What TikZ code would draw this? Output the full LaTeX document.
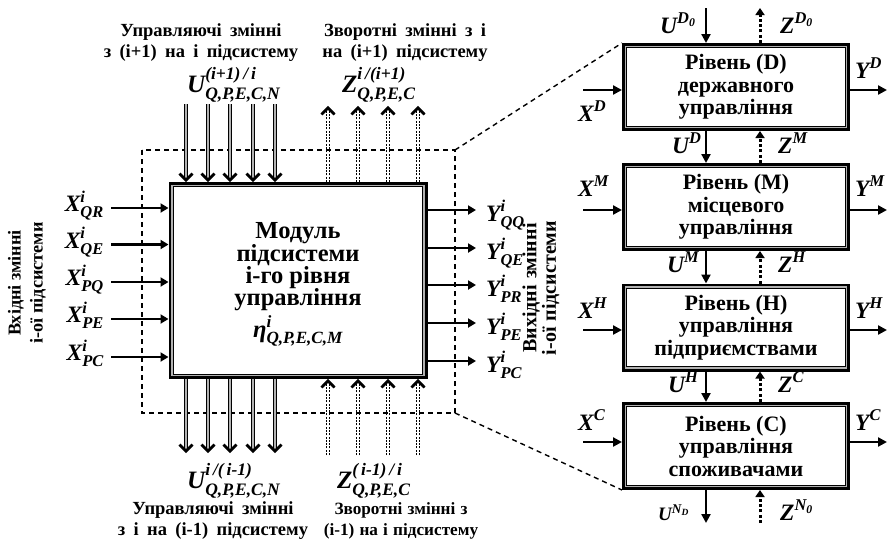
\documentclass[tikz,border=0pt]{standalone}
\usepackage{fontspec}
\setmainfont{Liberation Serif}
\usepackage{amsmath}
\usetikzlibrary{arrows.meta,calc}
\newcommand\bi[1]{\text{\bfseries\itshape #1}}
\newcommand\widesp{\spaceskip=0.45em plus 0.1em\relax}
\newcommand\midsp{\spaceskip=0.3em plus 0.1em\relax}
\begin{document}
\begin{tikzpicture}[x=1pt,y=-1pt,
  hdr/.style={font=\fontsize{18.5}{21}\selectfont\bfseries\widesp, align=center, inner sep=0},
  hdrb/.style={font=\fontsize{17.2}{21}\selectfont\bfseries\midsp, align=center, inner sep=0},
  rot/.style={font=\fontsize{18.2}{22}\selectfont\bfseries, align=center, rotate=90, inner sep=0},
  rotb/.style={font=\fontsize{20}{19.5}\selectfont\bfseries\midsp, align=center, rotate=90, inner sep=0},
  var/.style={font=\fontsize{23.5}{26}\selectfont, inner sep=0},
  bigvar/.style={font=\fontsize{25}{28}\selectfont, inner sep=0},
  smallvar/.style={font=\fontsize{19}{22}\selectfont, inner sep=0},
  tribox/.style={draw, line width=0.8pt, double=gray!60, double distance=1.6pt,
    preaction={draw=black, line width=7pt}, fill=white, outer sep=3.5pt,
    align=center, inner sep=0},
  thk/.style={line width=2.9pt, -{Triangle[length=8pt,width=9pt]}},
  rarr/.style={line width=2.6pt, -{Triangle[length=9pt,width=9pt]}},
  rdot/.style={line width=3pt, dash pattern=on 3pt off 2.3pt, -{Triangle[length=7pt,width=9pt]}},
  uline/.style={line width=0.9pt, double=gray!60, double distance=1.3pt},
  zdot/.style={line width=1pt, dash pattern=on 2pt off 1.3pt},
  chevline/.style={line width=2.8pt, line join=miter},
  dsh/.style={line width=1.4pt, dash pattern=on 5pt off 4pt}
]
\useasboundingbox (0,0) rectangle (889,539);

% dashed frame
\coordinate (dtl) at (142,150);
\coordinate (dbr) at (455,413);
\draw[dsh] (dtl) rectangle (dbr);

% main module
\node[tribox, minimum width=252pt, minimum height=190pt,
  font=\fontsize{24.5}{22.3}\selectfont\bfseries] (mod) at (298,280.5)
  {\rule{0pt}{24pt}Модуль\\підсистеми\\і-го рівня\\управління\\[4pt]$\bi{η}^{\bi{i}}_{\bi{Q,P,E,C,M}}$};

% level boxes
\node[tribox, minimum width=221pt, minimum height=81pt,
  font=\fontsize{22}{22.5}\selectfont\bfseries] (D) at (736,87) {Рівень (D)\\державного\\управління};
\node[tribox, minimum width=221pt, minimum height=81pt,
  font=\fontsize{22}{22.5}\selectfont\bfseries] (M) at (736,207) {Рівень (M)\\місцевого\\управління};
\node[tribox, minimum width=221pt, minimum height=81pt,
  font=\fontsize{22}{22.5}\selectfont\bfseries] (H) at (736,327.5) {Рівень (H)\\управління\\підприємствами};
\node[tribox, minimum width=221pt, minimum height=81pt,
  font=\fontsize{22}{22.5}\selectfont\bfseries] (C) at (736,446) {Рівень (C)\\управління\\споживачами};

\draw[dsh] (dbr |- dtl) -- (D.north west);
\draw[dsh] (dbr) -- (C.south west);

% headers
\node[hdr] (h1) at (201,42.4) {Управляючі змінні\\з (i+1) на і підсистему};
\node[hdr] (h2) at (405,42.4) {Зворотні змінні з і\\на (i+1) підсистему};
\node[hdr] (h3) at (213,521) {Управляючі змінні\\з і на (і-1) підсистему};
\node[hdrb] (h4) at (401,521) {Зворотні змінні з\\(і-1) на і підсистему};
\node[rot] (lin) at (27,283) {Вхідні змінні\\і-ої підсистеми};
\node[rotb] (lout) at (541,288) {Вихідні змінні\\і-ої підсистеми};

% variable labels of module
\node[bigvar, anchor=base west] (ltop) at (187,92) {$\bi{U}^{\bi{(i+1)\,/\,i}}_{\bi{Q,P,E,C,N}}$};
\node[bigvar, anchor=base west] (ztop) at (342,92) {$\bi{Z}^{\bi{i\,/(i+1)}}_{\bi{Q,P,E,C}}$};
\node[bigvar, anchor=base west] (lbot) at (187,488) {$\bi{U}^{\bi{i\,/(\,i{-}1)}}_{\bi{Q,P,E,C,N}}$};
\node[bigvar, anchor=base west] (zbot) at (337,488) {$\bi{Z}^{\bi{(\,i{-}1)\,/\,i}}_{\bi{Q,P,E,C}}$};

% U arrows (control), top and bottom
\foreach \x [count=\k] in {186,208,230,253,275} {
  \coordinate (ut\k) at (\x,104);
  \coordinate (utb\k) at (ut\k |- mod.north);
  \draw[uline] (ut\k) -- ([yshift=2pt]utb\k);
  \draw[chevline] ($(utb\k)+(-6.5,-8.5)$) -- ($(utb\k)+(0,-1.8)$) -- ($(utb\k)+(6.5,-8.5)$);
  \coordinate (ub\k) at (\x,453);
  \coordinate (ubb\k) at (ub\k |- mod.south);
  \draw[uline] (ubb\k) -- ([yshift=2pt]ub\k);
  \draw[chevline] ($(ub\k)+(-6.5,-8.5)$) -- ($(ub\k)+(0,-1.8)$) -- ($(ub\k)+(6.5,-8.5)$);
}
% Z arrows (feedback), top and bottom
\foreach \x [count=\k] in {328,358,388,418} {
  \coordinate (zt\k) at (\x,106);
  \coordinate (ztb\k) at (zt\k |- mod.north);
  \draw[zdot] ([xshift=-1.4pt]ztb\k) -- ([xshift=-1.4pt,yshift=-2pt]zt\k)
              ([xshift=1.4pt]ztb\k) -- ([xshift=1.4pt,yshift=-2pt]zt\k);
  \draw[chevline] ($(zt\k)+(-6.5,8.5)$) -- ($(zt\k)+(0,1.8)$) -- ($(zt\k)+(6.5,8.5)$);
  \coordinate (zb\k) at (\x,455);
  \coordinate (zbb\k) at (zb\k |- mod.south);
  \draw[zdot] ([xshift=-1.4pt]zb\k) -- ([xshift=-1.4pt,yshift=-2pt]zbb\k)
              ([xshift=1.4pt]zb\k) -- ([xshift=1.4pt,yshift=-2pt]zbb\k);
  \draw[chevline] ($(zbb\k)+(-6.5,8.5)$) -- ($(zbb\k)+(0,1.8)$) -- ($(zbb\k)+(6.5,8.5)$);
}

% X inputs
\foreach \y/\s [count=\k] in {208/QR,244.5/QE,282/PQ,319/PE,357/PC} {
  \coordinate (xs\k) at (111,\y);
  \draw[thk] (xs\k) -- (xs\k -| mod.west);
  \node[var, anchor=base east] at (104,\y+3.5) {$\bi{X}^{\bi{i}}_{\bi{\s}}$};
}
% Y outputs
\foreach \y/\s [count=\k] in {210/QQ,248/QE,285/PR,323/PE,361/PC} {
  \coordinate (ye\k) at (476,\y);
  \draw[thk] (ye\k -| mod.east) -- (ye\k);
  \node[var, anchor=base west] at (486,\y+11) {$\bi{Y}^{\bi{i}}_{\bi{\s}}$};
}

% right column connectors
\coordinate (ux) at (706,0);
\coordinate (zx) at (760,0);
\coordinate (uD0) at (706,8);
\coordinate (zD0) at (760,8);
\draw[rarr] (uD0) -- (uD0 |- D.north);
\draw[rdot] (zD0 |- D.north) -- (zD0);
\draw[rarr] (D.south -| ux) -- (M.north -| ux);
\draw[rdot] (M.north -| zx) -- (D.south -| zx);
\draw[rarr] (M.south -| ux) -- (H.north -| ux);
\draw[rdot] (H.north -| zx) -- (M.south -| zx);
\draw[rarr] (H.south -| ux) -- (C.north -| ux);
\draw[rdot] (C.north -| zx) -- (H.south -| zx);
\coordinate (uND) at (706,523);
\coordinate (zN0) at (760,523);
\draw[rarr] (uND |- C.south) -- (uND);
\draw[rdot] (zN0) -- (zN0 |- C.south);

\foreach \n/\y in {D/90,M/210,H/330,C/442} {
  \coordinate (x\n) at (583,\y);
  \draw[rarr] (x\n) -- (x\n -| \n.west);
  \coordinate (y\n) at (887,\y);
  \draw[rarr] (y\n -| \n.east) -- (y\n);
}

\node[var, anchor=base west] at (578,121) {$\bi{X}^{\bi{D}}$};
\node[var, anchor=base west] at (578,196) {$\bi{X}^{\bi{M}}$};
\node[var, anchor=base west] at (578,318) {$\bi{X}^{\bi{H}}$};
\node[var, anchor=base west] at (578,430) {$\bi{X}^{\bi{C}}$};
\node[var, anchor=base west] at (855,78) {$\bi{Y}^{\bi{D}}$};
\node[var, anchor=base west] at (855,196) {$\bi{Y}^{\bi{M}}$};
\node[var, anchor=base west] at (855,318) {$\bi{Y}^{\bi{H}}$};
\node[var, anchor=base west] at (855,430) {$\bi{Y}^{\bi{C}}$};

\node[var, anchor=base west] at (660,33) {$\bi{U}^{\bi{D}_{\bi{0}}}$};
\node[var, anchor=base west] at (780,33) {$\bi{Z}^{\bi{D}_{\bi{0}}}$};
\node[var, anchor=base west] at (672,153) {$\bi{U}^{\bi{D}}$};
\node[var, anchor=base west] at (778,153) {$\bi{Z}^{\bi{M}}$};
\node[var, anchor=base west] at (667,272) {$\bi{U}^{\bi{M}}$};
\node[var, anchor=base west] at (778,272) {$\bi{Z}^{\bi{H}}$};
\node[var, anchor=base west] at (668,392) {$\bi{U}^{\bi{H}}$};
\node[var, anchor=base west] at (778,392) {$\bi{Z}^{\bi{C}}$};
\node[smallvar, anchor=base west] at (658,520) {$\bi{U}^{\bi{N}_{\bi{D}}}$};
\node[var, anchor=base west] at (780,520) {$\bi{Z}^{\bi{N}_{\bi{0}}}$};
\end{tikzpicture}
\end{document}
